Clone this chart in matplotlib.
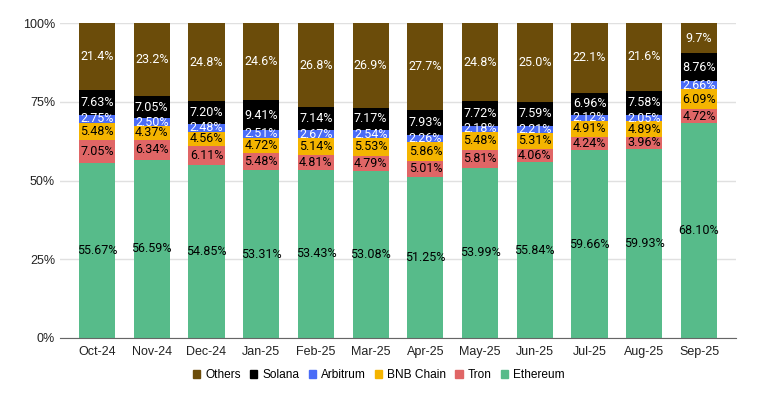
import numpy as np
import matplotlib.pyplot as plt
from matplotlib.patches import Patch

months = ['Oct-24', 'Nov-24', 'Dec-24', 'Jan-25', 'Feb-25', 'Mar-25',
          'Apr-25', 'May-25', 'Jun-25', 'Jul-25', 'Aug-25', 'Sep-25']

ethereum = [55.67, 56.59, 54.85, 53.31, 53.43, 53.08, 51.25, 53.99, 55.84, 59.66, 59.93, 68.10]
tron = [7.05, 6.34, 6.11, 5.48, 4.81, 4.79, 5.01, 5.81, 4.06, 4.24, 3.96, 4.72]
bnb = [5.48, 4.37, 4.56, 4.72, 5.14, 5.53, 5.86, 5.48, 5.31, 4.91, 4.89, 6.09]
arbitrum = [2.75, 2.50, 2.48, 2.51, 2.67, 2.54, 2.26, 2.18, 2.21, 2.12, 2.05, 2.66]
solana = [7.63, 7.05, 7.20, 9.41, 7.14, 7.17, 7.93, 7.72, 7.59, 6.96, 7.58, 8.76]
others = [21.4, 23.2, 24.8, 24.6, 26.8, 26.9, 27.7, 24.8, 25.0, 22.1, 21.6, 9.7]

series = [
    ('Ethereum', ethereum, '#57bb8a', 'black', '{:.2f}%'),
    ('Tron', tron, '#e06666', 'black', '{:.2f}%'),
    ('BNB Chain', bnb, '#f4b400', 'black', '{:.2f}%'),
    ('Arbitrum', arbitrum, '#4a6cf7', 'white', '{:.2f}%'),
    ('Solana', solana, '#000000', 'white', '{:.2f}%'),
    ('Others', others, '#6b4c0a', 'white', '{:.1f}%'),
]

plt.rcParams['font.family'] = ['Liberation Sans', 'DejaVu Sans']

fig = plt.figure(figsize=(7.69, 3.96), dpi=100)
ax = fig.add_axes([60 / 769, 1 - 338 / 396, 676 / 769, 315 / 396])

x = np.arange(len(months))
bottom = np.zeros(len(months))
for name, vals, color, tcolor, fmt in series:
    vals = np.array(vals)
    ax.bar(x, vals, 0.66, bottom=bottom, color=color, zorder=2)
    for xi, b, v in zip(x, bottom, vals):
        ax.text(xi, b + v / 2, fmt.format(v), ha='center', va='center',
                color=tcolor, fontsize=9, family=['Roboto', 'DejaVu Sans'], zorder=3)
    bottom = bottom + vals

ax.set_xlim(-0.676, 11.676)
ax.set_ylim(0, 100)
ax.set_yticks([0, 25, 50, 75, 100])
ax.set_yticklabels(['0%', '25%', '50%', '75%', '100%'])
ax.set_xticks(x)
ax.set_xticklabels(months)
ax.tick_params(length=0, labelsize=9, colors='#222222')
ax.tick_params(axis='x', pad=6)
ax.grid(axis='y', color='#e0e0e0', linewidth=1, zorder=0)
for s in ['top', 'right', 'left']:
    ax.spines[s].set_visible(False)
ax.spines['bottom'].set_color('#666666')

handles = [Patch(color=c, label=n) for n, _, c, _, _ in reversed(series)]
fig.legend(handles=handles, loc='center', bbox_to_anchor=(379 / 769, 1 - 375 / 396),
           ncol=6, frameon=False, fontsize=8.6, handlelength=0.6, handleheight=0.6,
           handletextpad=0.45, columnspacing=0.75)

plt.savefig('out.png')
